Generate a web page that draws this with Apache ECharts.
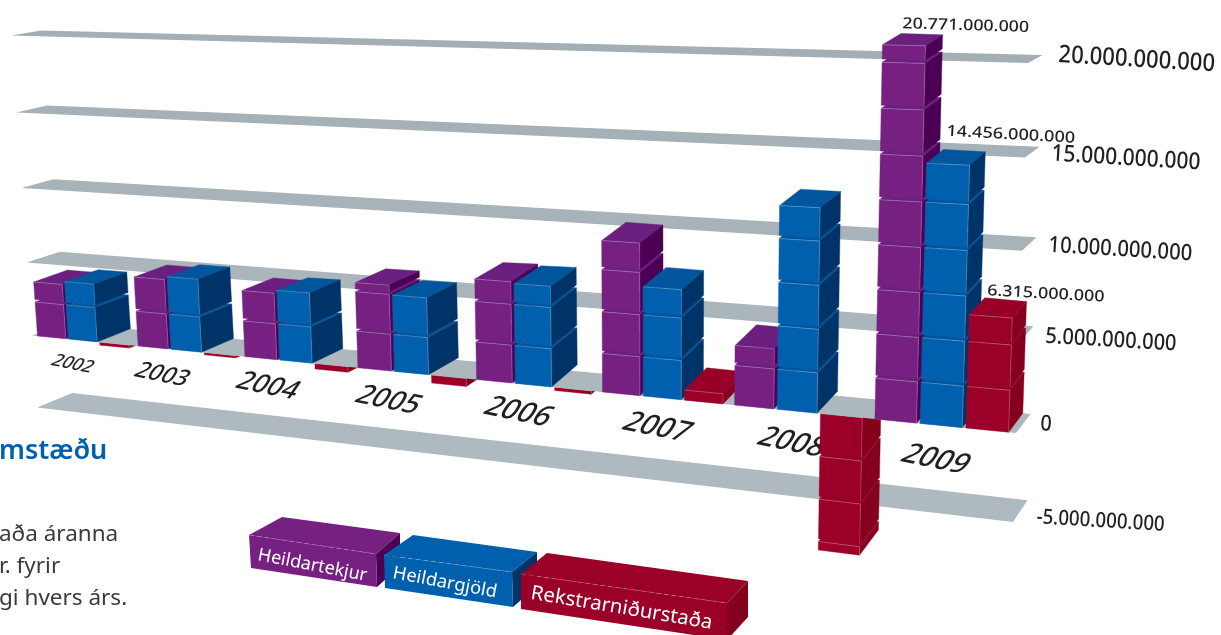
<!DOCTYPE html>
<html><head><meta charset="utf-8">
<style>html,body{margin:0;padding:0;background:#fff}#c{width:1221px;height:635px}</style>
<script src="https://cdn.jsdelivr.net/npm/echarts@6/dist/echarts.min.js"></script>
</head><body><div id="c"></div>
<script>
// ---- data ----
const years = ['2002','2003','2004','2005','2006','2007','2008','2009'];
const heildartekjur = [3.7e9,4.6e9,4.3e9,5.4e9,6.2e9,9.05e9,3.5e9,20.771e9];
const heildargjold  = [3.9e9,4.8e9,4.5e9,4.8e9,6.1e9,6.5e9,11.7e9,14.456e9];
const rekstrarnidurstada = [-0.2e9,-0.15e9,-0.35e9,-0.5e9,-0.2e9,0.6e9,-8.0e9,6.315e9];
const seriesNames = ['Heildartekjur','Heildargjöld','Rekstrarniðurstaða'];
const tickValues = [-5e9,0,5e9,10e9,15e9,20e9];
const tickLabels = ['-5.000.000.000','0','5.000.000.000','10.000.000.000','15.000.000.000','20.000.000.000'];
const labelledYear = '2009';
const titleText = 'mstæðu';
const bodyLines = ['aða áranna','r. fyrir','gi hvers árs.'];

// ---- styles ----
const FACE = [
 {front:'#762181',top:'#6b1f7e',side:'#4b0055'},
 {front:'#0060ae',top:'#00569d',side:'#003468'},
 {front:'#9b0028',top:'#980028',side:'#85001c'}];
const BLOCK = 2.5, GAP = 0.17, SLOT = 0.313, BARW = 0.288;
const tickStyle = {'-5':[20.8,17,-3],'0':[22,10,-2],'5':[22.3,10,0],'10':[22.5,8,0],'15':[23.3,7,0],'20':[24.5,0,4]};
const yearSize = [15.5,20,23,24,25,25,25,25];
const yearOff = [[-1,0],[-14,0],[-17,0],[-11,2],[-2,1],[9,3],[10,4],[11,6]];
const valueOff = [[20,-21,-0.03,1.15],[20,-32,-0.055,1.17],[18,-24,-0.055,1.16]];
const SHIFTS = [[0,2.5],[3,1],[4,0],[6.7,0],[7,2],[8,4]];
const G = {left:100,top:50,w:800,h:350};
const lerp=(a,b,f)=>a+(b-a)*f;
function look(tb,s){for(let i=1;i<tb.length;i++){if(s<=tb[i][0]){const f=(s-tb[i-1][0])/(tb[i][0]-tb[i-1][0]);return lerp(tb[i-1][1],tb[i][1],f);}}return tb[tb.length-1][1];}
const T=t=>35+98*t+3.1*t*t+look(SHIFTS,t);
const S=t=>(T(t)-32)/984;
function front(s,v){
  const xl=32-1.05*v, yl=335.5-14.5*v-0.025*v*v;
  const xr=1016+0.6*v, yr=433-17.94*v-0.028*v*v;
  return [lerp(xl,xr,s),lerp(yl,yr,s)];
}
function bandPts(v){
  const a=front(0,v),b=front(1,v);
  const dL=[34-0.2*v,-12.5+0.37*v], dR=[14.5,-19+0.55*v];
  return [a,b,[b[0]+dR[0],b[1]+dR[1]],[a[0]+dL[0],a[1]+dL[1]]];
}
const DXS=[[0,34],[.25,31],[.4,30],[.55,25],[.67,22],[.8,20.5],[.87,18],[1,14]];
const DYS=[[0,-13],[.25,-14],[.4,-17],[.55,-23],[.8,-22],[1,-19]];
function P(t,v,d){
  const s=S(t),p=front(s,v);
  if(!d) return p;
  return [p[0]+look(DXS,s),p[1]+look(DYS,s)*(1-0.0225*v)];
}
// pixel from the hidden axes -> scene units
function scene(api,t,val){
  const c=api.coord([t,val]);
  return [(c[0]-G.left)/G.w*8,(G.top+G.h-c[1])/G.h*35-10];
}
const poly=(pts,fill)=>({type:'polygon',shape:{points:pts},style:{fill:fill,stroke:fill,lineWidth:0.4}});
const line=(pts,o)=>({type:'polyline',shape:{points:pts},style:{fill:null,stroke:'#fff',opacity:o,lineWidth:0.7}});
function block(t0,t1,v0,v1,c,noTop){
  const ch=[];
  if(!noTop) ch.push(poly([P(t0,v1),P(t1,v1),P(t1,v1,1),P(t0,v1,1)],c.top));
  ch.push(poly([P(t1,v0),P(t1,v0,1),P(t1,v1,1),P(t1,v1)],c.side));
  ch.push(poly([P(t0,v0),P(t1,v0),P(t1,v1),P(t0,v1)],c.front));
  ch.push(line([P(t0,v1),P(t1,v1)],0.35));
  ch.push(line([P(t1,v1),P(t1,v0)],0.3));
  return ch;
}
function renderBar(params,api){
  const i=api.value(0), slot=api.value(2);
  const [t0,vv]=scene(api,i+slot*SLOT,api.value(1));
  const t1=t0+BARW, c=FACE[slot], ch=[];
  if(vv>0){
    for(let b=0;b*BLOCK<vv;b++){
      const v0=b*BLOCK, v1=Math.min(vv,(b+1)*BLOCK-GAP);
      ch.push(...block(t0,t1,v0,v1,c,false));
    }
  }else{
    const n=Math.ceil(-vv/BLOCK);
    for(let b=n-1;b>=0;b--){
      const v1=-b*BLOCK, v0=Math.max(vv,-(b+1)*BLOCK+GAP);
      ch.push(...block(t0,t1,v0,v1,c,b===0));
    }
  }
  return {type:'group',children:ch};
}
function renderBand(params,api){
  const v=scene(api,0,api.value(0))[1];
  const col=`rgb(${Math.round(lerp(175,163,(v+5)/25))},${Math.round(lerp(186,174,(v+5)/25))},${Math.round(lerp(192,181,(v+5)/25))})`;
  return {type:'polygon',shape:{points:bandPts(v)},style:{fill:col}};
}
function renderTick(params,api){
  const v=scene(api,8,api.value(0))[1];
  const st=tickStyle[String(Math.round(v))];
  const tip=bandPts(v)[2];
  return {type:'text',x:tip[0]+12+st[2],y:tip[1]+st[1],rotation:-0.06,scaleX:0.9,
    style:{text:tickLabels[params.dataIndex],font:`500 ${st[0]}px "Noto Sans"`,fill:'#231f20',textAlign:'left',textVerticalAlign:'middle'}};
}
function renderYear(params,api){
  const i=api.value(0);
  const [t,v]=scene(api,i+0.35,-1.7e9);
  const p=P(t,v),o=yearOff[i];
  return {type:'text',x:p[0]+o[0],y:p[1]+o[1],rotation:-0.2,scaleX:1.14,scaleY:1.15,skewX:-0.4,
    style:{text:years[i],font:`500 ${yearSize[i]}px "Noto Sans"`,fill:'#231f20',textAlign:'center',textVerticalAlign:'middle'}};
}
function renderValue(params,api){
  const i=api.value(0),slot=api.value(2);
  const [t,v]=scene(api,i+slot*SLOT,api.value(1));
  const p=P(t,v),o=valueOff[slot];
  const txt=String(Math.round(api.value(1))).replace(/\B(?=(\d{3})+$)/g,'.');
  return {type:'text',x:p[0]+o[0],y:p[1]+o[1],rotation:o[2],scaleX:o[3],style:{text:txt,font:'500 15.5px "Noto Sans"',fill:'#231f20',textAlign:'left',textVerticalAlign:'middle'}};
}
const allBars=[];
years.forEach((y,i)=>{[heildartekjur,heildargjold,rekstrarnidurstada].forEach((a,s)=>allBars.push([i,a[i],s]));});
const base={type:'custom',coordinateSystem:'cartesian2d',silent:true,animation:false};
function legendBox(idx,name,fc,tr,br,bl,bk,br2,tx){
  const c=FACE[idx];
  const tl=fc;
  return {type:'group',z:10,children:[
    {type:'polygon',shape:{points:[tl,tr,br2[0],bk]},style:{fill:c.front}},
    {type:'polygon',shape:{points:[tr,br2[0],br2[1],br]},style:{fill:c.side}},
    {type:'polygon',shape:{points:[tl,tr,br,bl]},style:{fill:c.front}},
    {type:'polyline',shape:{points:[tl,tr]},style:{stroke:'#fff',opacity:.3,lineWidth:.7,lineDash:[5,3],fill:null}},
    {type:'text',x:tx[0],y:tx[1],rotation:tx[2],scaleX:tx[4],style:{text:name,font:`400 ${tx[3]}px "Noto Sans"`,fill:'#fff',textVerticalAlign:'middle'}}
  ]};
}
const chart=echarts.init(document.getElementById('c'),null,{renderer:'canvas'});
chart.setOption({
  animation:false,
  grid:{left:G.left,top:G.top,width:G.w,height:G.h,containLabel:false},
  xAxis:{type:'value',min:0,max:8,show:false},
  yAxis:{type:'value',min:-10e9,max:25e9,show:false},
  series:[
    {...base,z:1,renderItem:renderBand,data:tickValues.filter(v=>v<0).map(v=>[v]),encode:{x:0,y:0}},
    {...base,z:2,renderItem:renderYear,data:years.map((y,i)=>[i,0]),encode:{x:0,y:1}},
    {...base,z:3,renderItem:renderBar,data:allBars.filter(d=>d[1]<0),encode:{x:0,y:1}},
    {...base,z:4,renderItem:renderBand,data:tickValues.filter(v=>v>=0).map(v=>[v]),encode:{x:0,y:0}},
    {...base,z:5,renderItem:renderBar,data:allBars.filter(d=>d[1]>0),encode:{x:0,y:1}},
    {...base,z:6,renderItem:renderValue,data:allBars.filter(d=>years[d[0]]===labelledYear),encode:{x:0,y:1}},
    {...base,z:6,renderItem:renderTick,data:tickValues.map(v=>[v]),encode:{x:0,y:0}}
  ],
  graphic:[
    {type:'text',x:-1,y:451,z:10,style:{text:titleText,font:'600 27px "Noto Sans"',fill:'#0060ae',textVerticalAlign:'middle'}},
    ...bodyLines.map((l,i)=>({type:'text',x:-1,y:535+i*32,z:10,style:{text:l,font:'400 22.5px "Noto Sans"',fill:'#3a3a3c',textVerticalAlign:'middle'}})),
    legendBox(0,seriesNames[0],[249,535],[376,554],[377,587],[251,568],[282,517],[[400,533],[400,566]],[258,555,-0.19,18,1.0]),
    legendBox(1,seriesNames[1],[384,555],[512,572],[513,607],[385,588],[413,535],[[537,552],[537,586]],[393,573,-0.187,18,1.02]),
    legendBox(2,seriesNames[2],[521,574],[727,603],[727,640],[521,609],[547,553],[[748,581],[748,617]],[531,593,-0.165,20,1.02])
  ]
});
</script></body></html>
